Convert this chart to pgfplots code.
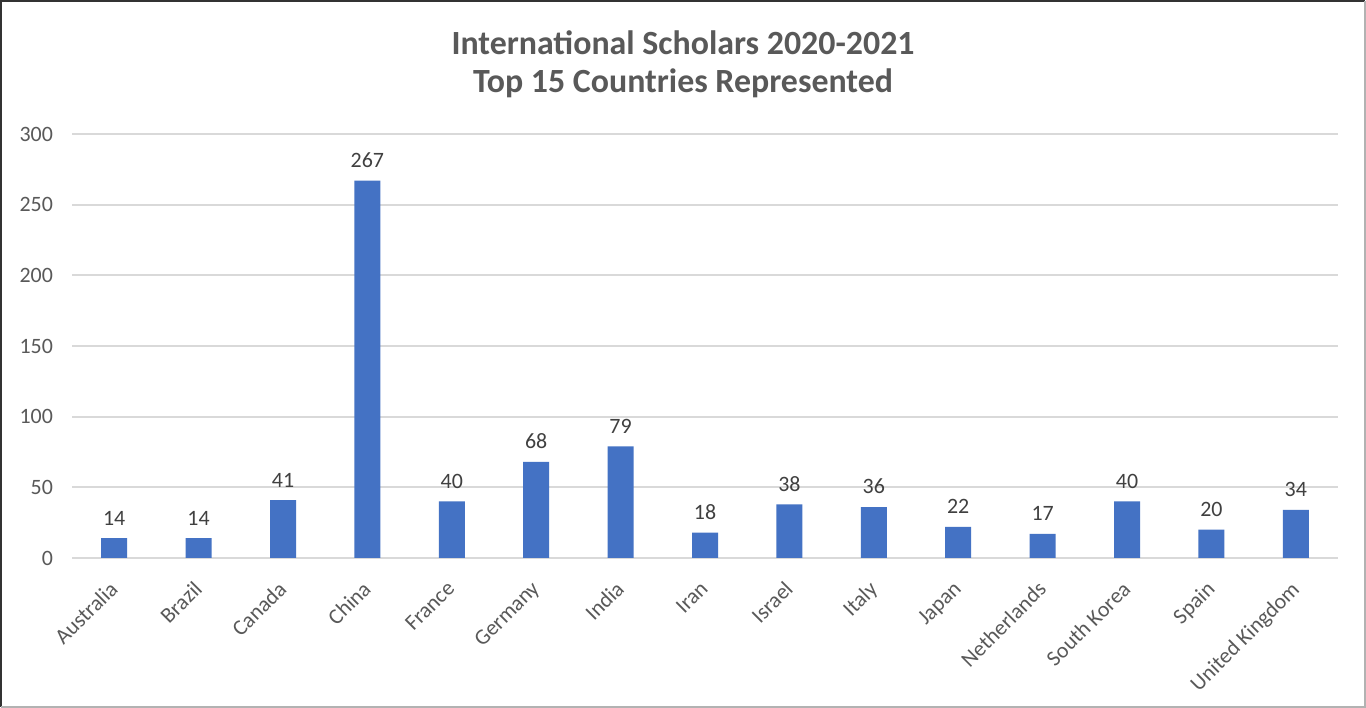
\documentclass[border=0pt]{standalone}
\usepackage{pgfplots}
\pgfplotsset{compat=1.18}
\usepackage{fontspec}
\setmainfont{Carlito}
\definecolor{barblue}{HTML}{4472C4}
\definecolor{textgray}{HTML}{595959}
\definecolor{labelgray}{HTML}{404040}
\definecolor{gridgray}{HTML}{D9D9D9}
\begin{document}
\begin{tikzpicture}
\path[use as bounding box] (0bp,0bp) rectangle (683bp,354bp);
\fill[white] (0bp,0bp) rectangle (683bp,354bp);
% frame: darker on top and left, lighter on right and bottom
\draw[color=black!80, line width=1.2bp] (0.6bp,0.6bp) -- (0.6bp,353.4bp) -- (682.4bp,353.4bp);
\draw[color=black!30, line width=1.2bp] (682.4bp,353.4bp) -- (682.4bp,0.6bp) -- (0.6bp,0.6bp);
\node[font=\bfseries\fontsize{17}{20}\selectfont, text=textgray] at (341.5bp,332.5bp) {International Scholars 2020-2021};
\node[font=\bfseries\fontsize{17}{20}\selectfont, text=textgray] at (341.5bp,312.5bp) {Top 15 Countries Represented};
\begin{axis}[
    at={(36bp,75bp)}, anchor=south west,
    scale only axis,
    width=633bp, height=212bp,
    ymin=0, ymax=300,
    ytick={0,50,...,300},
    xmin=-0.5, xmax=14.5,
    xtick={0,...,14},
    xticklabels={Australia,Brazil,Canada,China,France,Germany,India,Iran,Israel,Italy,Japan,Netherlands,South Korea,Spain,United Kingdom},
    ybar, bar width=13bp,
    axis line style={draw=none},
    major tick length=0pt,
    ymajorgrids,
    grid style={gridgray, line width=0.9bp},
    /pgf/number format/assume math mode=true,
    yticklabel style={font=\fontsize{11}{13}\selectfont, text=textgray, xshift=-6bp},
    xticklabel style={font=\fontsize{11}{13}\selectfont, text=textgray, xshift=-3bp, yshift=-6bp, rotate=45, anchor=north east},
    nodes near coords,
    every node near coord/.append style={font=\fontsize{11}{13}\selectfont, text=labelgray, yshift=3bp},
]
\addplot[fill=barblue, draw=none] coordinates {
    (0,14) (1,14) (2,41) (3,267) (4,40) (5,68) (6,79) (7,18)
    (8,38) (9,36) (10,22) (11,17) (12,40) (13,20) (14,34)};
\end{axis}
\end{tikzpicture}
\end{document}
